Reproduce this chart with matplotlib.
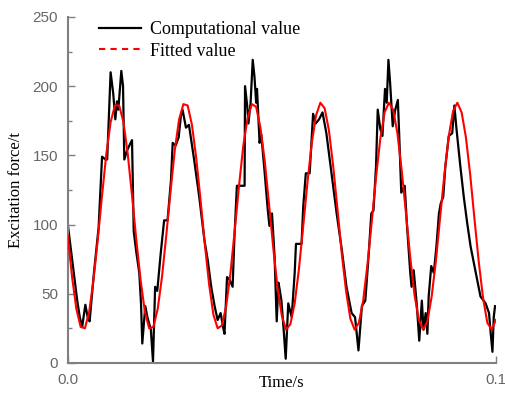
import matplotlib
matplotlib.use("Agg")
import matplotlib.pyplot as plt
from matplotlib.lines import Line2D
from matplotlib.ticker import MultipleLocator

# computational value (time in ms, force in t)
comp_t = [
    0, 1.4, 2.2, 2.8, 3.35, 4.1, 4.7, 5.1, 6.1, 7.2, 8.0, 8.8, 9.2, 10.0,
    10.6, 11.1, 11.5, 11.8, 12.5, 12.9, 13.2, 13.9, 15.0, 15.4, 16.0, 16.7,
    17.1, 17.4, 18.1, 18.6, 19.4, 19.9, 20.4, 20.9, 21.7, 22.5, 23.3, 24.1,
    24.5, 25.2, 25.9, 26.4, 26.8, 27.6, 28.3, 29.5, 30.7, 31.9, 32.7, 33.5,
    34.3, 35.0, 35.7, 36.2, 36.6, 37.2, 37.8, 38.5, 38.9, 39.5, 41.3, 41.4,
    41.9, 42.2, 42.7, 43.2, 43.6, 44.0, 44.2, 44.8, 45.2, 46.0, 46.7, 47.1,
    47.7, 48.3, 48.8, 49.2, 49.5, 49.9, 50.4, 50.9, 51.5, 52.3, 53.0, 53.3,
    54.6, 55.0, 55.6, 56.5, 57.3, 57.9, 58.7, 59.5, 60.4, 61.6, 62.8, 64.0,
    65.1, 66.3, 67.1, 67.9, 68.7, 69.5, 70.3, 70.9, 71.4, 72.0, 72.4, 73.0,
    73.5, 74.1, 74.5, 74.9, 75.3, 75.9, 76.5, 77.1, 77.4, 77.9, 78.7, 79.2,
    80.0, 80.3, 80.8, 81.5, 82.1, 82.7, 83.1, 83.6, 84.0, 84.3, 84.9, 85.5,
    86.1, 86.7, 87.1, 87.7, 88.2, 89.0, 89.8, 90.3, 90.8, 91.7, 92.5, 93.3,
    94.1, 95.3, 96.4, 97.6, 98.4, 98.8, 99.2, 99.5, 99.8,
]
comp_f = [
    100, 65, 45, 33, 26, 42, 32, 30, 65, 98, 149, 147, 147, 210,
    195, 176, 189, 183, 211, 200, 147, 154, 161, 95, 80, 65,
    43, 14, 41, 33, 24, 1, 55, 52, 79, 103, 103, 132,
    159, 157, 163, 178, 183, 170, 172, 147, 120, 89, 74, 55,
    41, 31, 36, 27, 21, 62, 60, 55, 89, 128, 128, 200,
    186, 173, 188, 219, 207, 188, 198, 159, 165, 137, 111, 99,
    108, 77, 30, 58, 53, 45, 25, 3, 43, 33, 65, 86,
    86, 113, 137, 137, 180, 173, 176, 181, 166, 137, 108, 82,
    55, 36, 33, 9, 41, 45, 79, 108, 110, 142, 183, 169,
    164, 198, 188, 219, 202, 171, 183, 190, 166, 123, 128, 101,
    65, 55, 67, 43, 16, 45, 24, 36, 21, 48, 70, 65,
    84, 108, 115, 120, 142, 164, 166, 186, 169, 142, 120, 101,
    84, 65, 48, 43, 36, 21, 8, 33, 41,
]

# fitted value, read every 1 ms
fit_f = [
    92, 62, 39, 26, 25, 37, 60, 89, 121, 151, 174, 186, 186, 174, 151, 121,
    89, 60, 37, 25, 26, 39, 62, 92, 124, 154, 176, 187, 186, 172, 148, 118,
    86, 57, 35, 25, 27, 41, 65, 96, 128, 157, 177, 187, 185, 170, 146, 115,
    83, 54, 34, 24, 28, 43, 68, 99, 131, 159, 179, 188, 184, 168, 142, 111,
    79, 52, 32, 24, 29, 45, 71, 102, 134, 162, 181, 188, 183, 166, 139, 108,
    76, 49, 31, 24, 30, 48, 74, 106, 137, 164, 182, 188, 181, 163, 136, 104,
    73, 47, 29, 24, 31,
]
fit_t = list(range(len(fit_f)))

comp_x = [v / 1000 for v in comp_t]
fit_x = [v / 1000 for v in fit_t]

grey = "#808080"

fig = plt.figure(figsize=(5.06, 3.94), dpi=100)
ax = fig.add_axes([0.134, 0.079, 0.846, 0.878])

ax.plot(comp_x, comp_f, color="black", lw=1.6, zorder=2)
ax.plot(fit_x, fit_f, color="red", lw=1.5, zorder=3)

ax.set_xlim(0, 0.1)
ax.set_ylim(0, 250)
ax.set_xticks([0.0, 0.1])
ax.set_xticklabels(["0.0", "0.1"])
ax.yaxis.set_major_locator(MultipleLocator(50))
ax.yaxis.set_minor_locator(MultipleLocator(25))

for side in ["top", "right"]:
    ax.spines[side].set_visible(False)
for side in ["left", "bottom"]:
    ax.spines[side].set_color(grey)
    ax.spines[side].set_linewidth(1.5)

ax.tick_params(axis="both", which="major", direction="in", length=5,
               width=1, color=grey, labelcolor="#666666", labelsize=11,
               pad=7)
ax.tick_params(axis="y", which="minor", direction="in", length=3,
               width=1, color=grey)
for lab in ax.get_xticklabels() + ax.get_yticklabels():
    lab.set_family("Liberation Sans")

ax.set_ylabel("Excitation force/t", family="Liberation Serif", fontsize=12,
              labelpad=6)
ax.set_xlabel("Time/s", family="Liberation Serif", fontsize=12, labelpad=-8)

handles = [
    Line2D([], [], color="black", lw=1.6),
    Line2D([], [], color="red", lw=1.5, ls=(0, (3, 2.5))),
]
ax.legend(handles, ["Computational value", "Fitted value"],
          loc="upper left", bbox_to_anchor=(0.035, 1.035), frameon=False,
          prop={"family": "Liberation Serif", "size": 13},
          handlelength=2.3, handletextpad=0.5, labelspacing=0.25)

fig.savefig("out.png", dpi=100)
